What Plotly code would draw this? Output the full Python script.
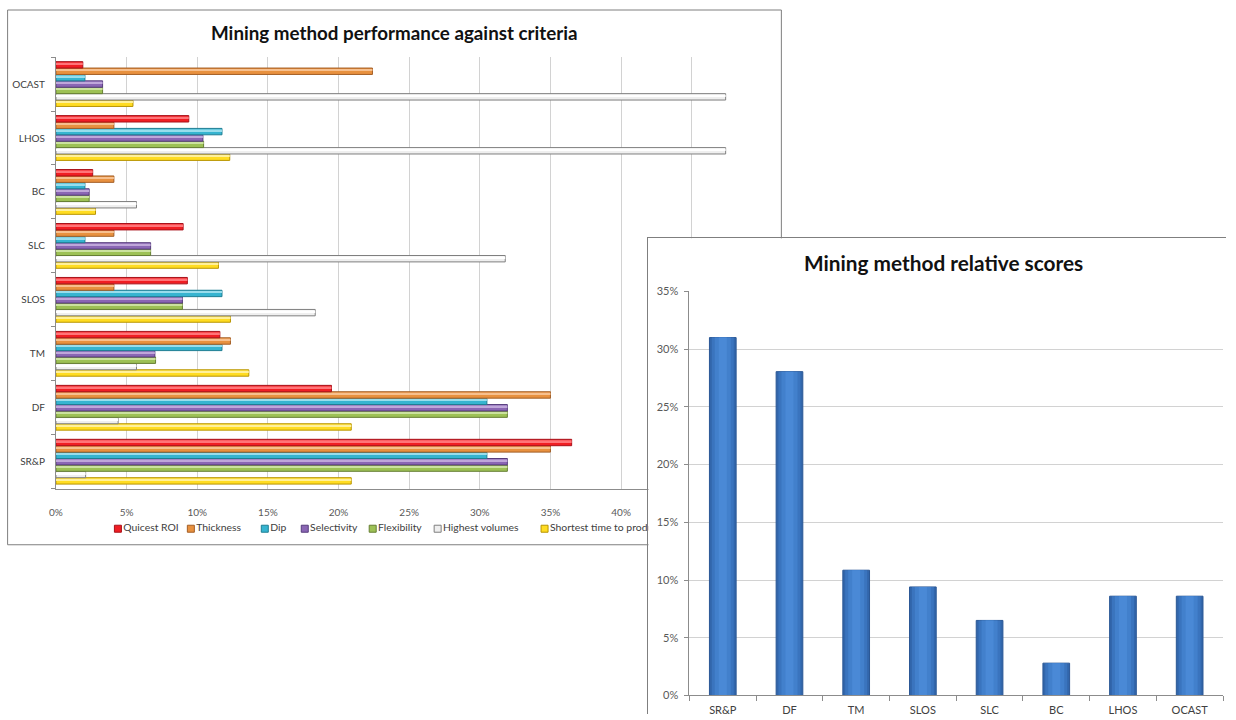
import plotly.graph_objects as go

W, H = 1236, 720

# ---- data -------------------------------------------------------------
methods = ["SR&P", "DF", "TM", "SLOS", "SLC", "BC", "LHOS", "OCAST"]

quicest_roi = [36.5, 19.5, 11.6, 9.3, 9.0, 2.6, 9.4, 1.9]
thickness = [35.0, 35.0, 12.35, 4.1, 4.1, 4.1, 4.1, 22.4]
dip = [30.5, 30.5, 11.75, 11.75, 2.05, 2.05, 11.75, 2.05]
selectivity = [31.95, 31.95, 7.0, 8.95, 6.7, 2.35, 10.4, 3.3]
flexibility = [31.95, 31.95, 7.05, 8.95, 6.7, 2.35, 10.45, 3.3]
highest_volumes = [2.1, 4.4, 5.7, 18.35, 31.8, 5.7, 47.4, 47.4]
shortest_time = [20.9, 20.9, 13.65, 12.35, 11.5, 2.8, 12.3, 5.45]

criteria = ["Quicest ROI", "Thickness", "Dip", "Selectivity",
            "Flexibility", "Highest volumes", "Shortest time to production"]
criteria_values = [quicest_roi, thickness, dip, selectivity,
                   flexibility, highest_volumes, shortest_time]

relative_scores = [31.0, 28.05, 10.85, 9.4, 6.5, 2.8, 8.6, 8.6]

pct_ticks_left = [0, 5, 10, 15, 20, 25, 30, 35, 40, 45, 50]
pct_ticks_right = [0, 5, 10, 15, 20, 25, 30, 35]

# ---- styling ----------------------------------------------------------
FONT = "Lato, Open Sans, sans-serif"
fills = ["#F01E23", "#E8913F", "#36B4D0", "#8A66B4", "#9DC155", "#EFEFEF", "#FFDC22"]
edges = ["#A8111A", "#A35E25", "#1E7E93", "#563C7C", "#667F33", "#7F7F7F", "#B89400"]
shines = ["#FF7478", "#F7C08E", "#98DDEC", "#BFA6DA", "#CBE29E", "#FFFFFF", "#FFF09A"]
legend_key_x = [118, 191, 265, 305, 373, 438, 545]  # legend key offsets (px)
AXIS = "#8C8C8C"
GRID = "#D2D2D2"
TICKTXT = "#595959"
BAR_GAP = 0.17
# rounded shading of the score columns: (width, fill) from the rim inwards
COLUMN_SHADES = [(0.40, "#3266AB"), (0.33, "#3A74BE"), (0.24, "#4280CC"), (0.12, "#4A89D6")]

# page layout grid: positions below are given in page pixels
X0, Y0, SPAN_X, SPAN_Y = 7.0, 7.0, 1220.0, 706.0


def fx(px):
    return min(max((px - X0) / SPAN_X, 0.0), 1.0)


def fy(px):
    return min(max(1 - (px - Y0) / SPAN_Y, 0.0), 1.0)


fig = go.Figure()

# Left chart: grouped horizontal bars, stacked bottom-up inside each
# category band so the first criterion sits at the top of its group
n = len(criteria)
slot = (1 - BAR_GAP) / n
for k, idx in enumerate(reversed(range(n))):
    off = -(1 - BAR_GAP) / 2 + k * slot
    fig.add_trace(go.Bar(
        y=methods, x=criteria_values[idx], orientation="h", name=criteria[idx],
        width=slot, offset=off,
        marker=dict(color=fills[idx], line=dict(color=edges[idx], width=1)),
        xaxis="x", yaxis="y", showlegend=False, hoverinfo="x+y+name",
    ))
    # glossy highlight along the upper edge of each bar
    fig.add_trace(go.Bar(
        y=methods, x=criteria_values[idx], orientation="h", name=criteria[idx],
        width=slot * 0.28, offset=off + slot * 0.56,
        marker=dict(color=shines[idx], line=dict(width=0)),
        xaxis="x", yaxis="y", showlegend=False, hoverinfo="skip",
    ))

# Legend row for the left chart (clipped at the edge of the second panel)
fig.add_trace(go.Scatter(
    x=legend_key_x, y=[0.5] * len(criteria),
    mode="markers+text", text=criteria, textposition="middle right",
    textfont=dict(family=FONT, size=10.4, color="#404040"),
    marker=dict(symbol="square", size=7, color=fills,
                line=dict(color=edges, width=1)),
    cliponaxis=True, xaxis="x2", yaxis="y2", showlegend=False, hoverinfo="skip",
))

# Panel that holds the second chart
fig.add_trace(go.Scatter(x=[None], y=[None], xaxis="x3", yaxis="y3",
                         showlegend=False, hoverinfo="skip"))

# Right chart: relative scores per method, drawn as nested layers
for i, (wd, col) in enumerate(COLUMN_SHADES):
    fig.add_trace(go.Bar(
        x=methods, y=relative_scores, width=wd, offset=-wd / 2,
        marker=dict(color=col,
                    line=dict(color="#2A5795" if i == 0 else col, width=1 if i == 0 else 0)),
        xaxis="x4", yaxis="y4", showlegend=False, name="Relative score",
        hoverinfo="x+y" if i == 0 else "skip",
    ))

fig.update_layout(
    width=W, height=H, margin=dict(l=0, r=0, t=0, b=0),
    paper_bgcolor="white", plot_bgcolor="white",
    barmode="group", bargap=BAR_GAP, bargroupgap=0,
    showlegend=False,
    font=dict(family=FONT, color="#404040"),
    xaxis=dict(
        domain=[fx(56), fx(763)], anchor="y", range=[0, 50],
        tickvals=pct_ticks_left, ticktext=[f"{v}%" for v in pct_ticks_left],
        showgrid=True, gridcolor=GRID, gridwidth=1, zeroline=False,
        showline=True, linecolor=AXIS, ticks="", ticklabelstandoff=14,
        tickfont=dict(size=10, color=TICKTXT), fixedrange=True,
    ),
    yaxis=dict(
        domain=[fy(488), fy(57)], anchor="x", type="category",
        categoryorder="array", categoryarray=methods, range=[-0.5, 7.5],
        showline=True, linecolor=AXIS, ticks="outside", tickson="boundaries",
        ticklen=4, tickcolor=AXIS, showgrid=False, ticklabelstandoff=8,
        tickfont=dict(size=10, color="#404040"), fixedrange=True,
    ),
    xaxis2=dict(domain=[fx(10), fx(649)], anchor="y2", range=[10, 649], visible=False),
    yaxis2=dict(domain=[fy(538), fy(518)], anchor="x2", range=[0, 1], visible=False),
    xaxis3=dict(domain=[fx(649), 1], anchor="y3", range=[0, 1], side="top",
                showline=True, linecolor="#7F7F7F", linewidth=1,
                showticklabels=False, showgrid=False, zeroline=False, ticks=""),
    yaxis3=dict(domain=[0, fy(238)], anchor="x3", range=[0, 1], side="left",
                showline=True, linecolor="#7F7F7F", linewidth=1,
                showticklabels=False, showgrid=False, zeroline=False, ticks=""),
    xaxis4=dict(
        domain=[fx(690), fx(1224)], anchor="y4", type="category",
        categoryorder="array", categoryarray=methods, range=[-0.5, 7.5],
        showline=True, linecolor=AXIS, ticks="outside", tickson="boundaries",
        ticklen=5, tickcolor=AXIS, ticklabelstandoff=4,
        tickfont=dict(size=11, color="#404040"), fixedrange=True,
    ),
    yaxis4=dict(
        domain=[fy(694.5), fy(291)], anchor="x4", range=[0, 35],
        tickvals=pct_ticks_right, ticktext=[f"{v}%" for v in pct_ticks_right],
        showgrid=True, gridcolor=GRID, gridwidth=1, zeroline=False,
        showline=True, linecolor=AXIS, ticks="outside", ticklen=4,
        tickcolor=AXIS, ticklabelstandoff=4,
        tickfont=dict(size=11, color=TICKTXT), fixedrange=True,
    ),
    shapes=[
        dict(type="rect", xref="paper", yref="paper",
             x0=fx(7.6), x1=fx(782), y0=fy(544), y1=fy(10),
             line=dict(color="#7F7F7F", width=1), fillcolor="rgba(0,0,0,0)",
             layer="below"),
    ],
    annotations=[
        dict(text="<b>Mining method performance against criteria</b>",
             x=fx(395), y=fy(32), xref="paper", yref="paper",
             xanchor="center", yanchor="middle", showarrow=False,
             font=dict(family=FONT, size=18.8, color="#111111")),
        dict(text="<b>Mining method relative scores</b>",
             x=fx(944), y=fy(262), xref="paper", yref="paper",
             xanchor="center", yanchor="middle", showarrow=False,
             font=dict(family=FONT, size=20.8, color="#111111")),
    ],
)

fig.write_html("out.html")
